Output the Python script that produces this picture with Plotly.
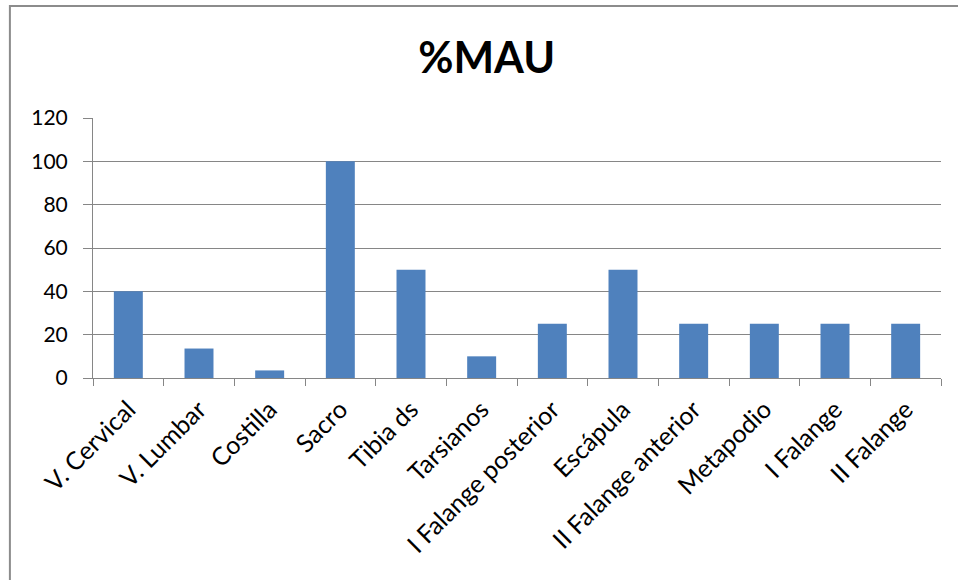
import plotly.graph_objects as go

# %MAU per skeletal element
elements = [
    "V. Cervical", "V. Lumbar", "Costilla", "Sacro", "Tibia ds", "Tarsianos",
    "I Falange posterior", "Escápula", "II Falange anterior", "Metapodio",
    "I Falange", "II Falange",
]
mau_pct = [40, 13.6, 3.5, 100, 50, 10, 25, 50, 25, 25, 25, 25]
y_ticks = [0, 20, 40, 60, 80, 100, 120]

FONT = "Lato"
GRID = "#868686"

fig = go.Figure(
    go.Bar(
        x=elements,
        y=mau_pct,
        marker=dict(color="#4F81BD", line=dict(width=0)),
        width=0.41,
    )
)

fig.update_layout(
    width=958,
    height=580,
    margin=dict(l=93, r=17, t=118, b=202),
    paper_bgcolor="white",
    plot_bgcolor="white",
    showlegend=False,
    bargap=0.59,
    title=dict(
        text="<b>%MAU</b>",
        x=0.508,
        xanchor="center",
        y=0.9,
        yanchor="middle",
        font=dict(family=FONT, size=43, color="black"),
    ),
    font=dict(family=FONT, color="black"),
    shapes=[
        dict(
            type="rect", xref="paper", yref="paper",
            x0=-0.098, x1=1.2, y0=-1.2, y1=1.431,
            line=dict(color="#8c8c8c", width=2),
        )
    ],
)

fig.update_xaxes(
    type="category",
    tickangle=-45,
    tickfont=dict(family=FONT, size=25, color="black"),
    tickson="boundaries",
    ticks="outside",
    ticklen=7,
    tickcolor=GRID,
    ticklabelstandoff=6,
    showline=True,
    linecolor=GRID,
    linewidth=1,
    showgrid=False,
)

fig.update_yaxes(
    range=[0, 120],
    tickvals=y_ticks,
    tickfont=dict(family=FONT, size=21, color="black"),
    ticks="outside",
    ticklen=9,
    tickcolor=GRID,
    ticklabelstandoff=11,
    showline=True,
    linecolor=GRID,
    linewidth=1,
    showgrid=True,
    gridcolor=GRID,
    gridwidth=1,
    zeroline=False,
)

fig.write_html("out.html")
